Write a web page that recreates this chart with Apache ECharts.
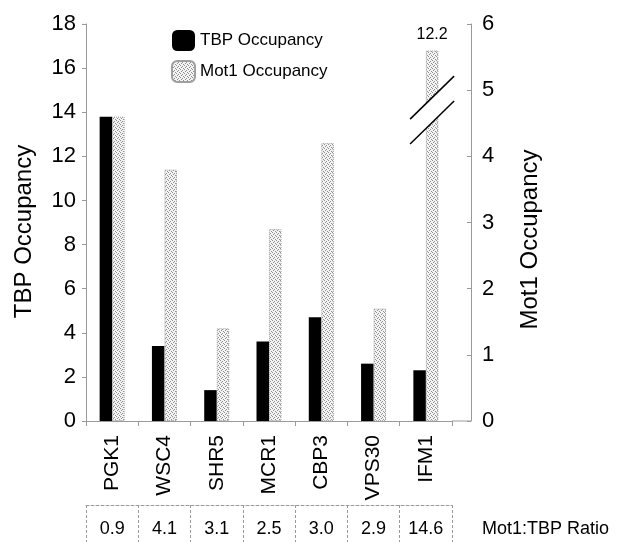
<!DOCTYPE html>
<html>
<head>
<meta charset="utf-8">
<script src="https://cdn.jsdelivr.net/npm/echarts@6/dist/echarts.min.js"></script>
<style>
  html, body { margin: 0; padding: 0; background: #fff; }
  #chart { width: 624px; height: 542px; }
</style>
</head>
<body>
<div id="chart"></div>
<script>
// Promoters on the x axis
const categories = ['PGK1', 'WSC4', 'SHR5', 'MCR1', 'CBP3', 'VPS30', 'IFM1'];
// TBP occupancy (left axis)
const tbpOccupancy = [13.8, 3.4, 1.4, 3.6, 4.7, 2.6, 2.3];
// Mot1 occupancy (right axis); IFM1 runs off the scale and is drawn through a broken axis
const mot1Occupancy = [4.6, 3.8, 1.4, 2.9, 4.2, 1.7, 12.2];
// Mot1:TBP ratio row under the chart
const ratios = [0.9, 4.1, 3.1, 2.5, 3.0, 2.9, 14.6];
// Tick labels
const tbpTicks = { min: 0, max: 18, interval: 2 };
const mot1Ticks = { min: 0, max: 6, interval: 1 };
// Axis break used for the off-scale Mot1 bar
const mot1Break = { start: 4.7, end: 11.3 };

const FONT = 'Liberation Sans, Arial, Helvetica, sans-serif';
const BAR_W = 12.5;
const GRID = { left: 86, right: 172, top: 24, bottom: 121 };
const RIGHT_OFFSET = 19;
const brokenIdx = mot1Occupancy.findIndex(v => v > mot1Ticks.max);

// Stippled fill for the Mot1 bars
function stipple() {
  const c = document.createElement('canvas');
  c.width = 4; c.height = 4;
  const g = c.getContext('2d');
  g.fillStyle = '#f4f4f4';
  g.fillRect(0, 0, 4, 4);
  g.fillStyle = '#8f8f8f';
  [[0, 0], [2, 1], [1, 2], [3, 3]].forEach(([x, y]) => g.fillRect(x, y, 1, 1));
  return { image: c, repeat: 'repeat' };
}
const mot1Fill = stipple();

const axisGray = '#9a9a9a';
const chart = echarts.init(document.getElementById('chart'), null, { renderer: 'canvas' });

const option = {
  animation: false,
  backgroundColor: '#fff',
  textStyle: { fontFamily: FONT, color: '#000' },
  grid: Object.assign({ containLabel: false }, GRID),
  legend: {
    orient: 'vertical',
    left: 171,
    top: 30,
    padding: 0,
    itemWidth: 23,
    itemHeight: 21,
    itemGap: 9,
    textStyle: { fontFamily: FONT, fontSize: 17, color: '#000' },
    data: ['TBP Occupancy', 'Mot1 Occupancy']
  },
  xAxis: [
    {
      type: 'category',
      data: categories,
      position: 'bottom',
      axisLine: { show: true, lineStyle: { color: axisGray, width: 1 } },
      axisTick: { show: true, length: 5, lineStyle: { color: axisGray } },
      axisLabel: {
        rotate: 90, margin: 14, fontSize: 21, color: '#000', fontFamily: FONT, interval: 0
      },
      splitLine: { show: false }
    },
    {
      // Ratio row, drawn as a boxed row of cells under the category labels
      type: 'category',
      data: ratios.map(v => v.toFixed(1)),
      position: 'bottom',
      offset: 84,
      name: 'Mot1:TBP Ratio',
      nameLocation: 'end',
      nameGap: 30,
      nameTextStyle: { fontSize: 18, fontFamily: FONT, color: '#000', verticalAlign: 'top', padding: [15, 0, 0, 0] },
      axisLine: { show: true, onZero: false, lineStyle: { color: axisGray, width: 1, type: [3, 2] } },
      axisTick: { show: true, interval: 0, length: 40, lineStyle: { color: axisGray, type: [3, 2] } },
      axisLabel: { margin: 15, fontSize: 18, color: '#000', fontFamily: FONT, interval: 0 },
      splitLine: { show: false }
    }
  ],
  yAxis: [
    {
      type: 'value',
      position: 'left',
      min: tbpTicks.min, max: tbpTicks.max, interval: tbpTicks.interval,
      name: 'TBP Occupancy',
      nameLocation: 'middle',
      nameRotate: 90,
      nameGap: 50,
      nameTextStyle: { fontSize: 24, fontFamily: FONT, color: '#000', padding: [0, 18, 0, 0] },
      axisLine: { show: true, lineStyle: { color: axisGray, width: 1 } },
      axisTick: { show: true, length: 4, lineStyle: { color: axisGray } },
      axisLabel: { margin: 10, fontSize: 22, color: '#000', fontFamily: FONT },
      splitLine: { show: false }
    },
    {
      type: 'value',
      position: 'right',
      offset: RIGHT_OFFSET,
      min: mot1Ticks.min, max: mot1Ticks.max, interval: mot1Ticks.interval,
      name: 'Mot1 Occupancy',
      nameLocation: 'middle',
      nameRotate: 90,
      nameGap: 47,
      nameTextStyle: { fontSize: 24, fontFamily: FONT, color: '#000', padding: [0, 34, 0, 0] },
      axisLine: { show: true, lineStyle: { color: axisGray, width: 1 } },
      axisTick: { show: true, inside: true, length: 4, lineStyle: { color: axisGray } },
      axisLabel: { margin: 11, fontSize: 22, color: '#000', fontFamily: FONT },
      splitLine: { show: false }
    },
    {
      // Mot1 data scale: same as the right axis below the break, compressed above it
      type: 'value',
      position: 'right',
      show: false,
      min: mot1Ticks.min,
      max: mot1Occupancy[brokenIdx] + 0.4,
      breaks: [{ start: mot1Break.start, end: mot1Break.end, gap: 0 }],
      breakArea: { show: false },
      splitLine: { show: false }
    }
  ],
  series: [
    {
      name: 'TBP Occupancy',
      type: 'bar',
      xAxisIndex: 0,
      yAxisIndex: 0,
      data: tbpOccupancy,
      barWidth: BAR_W,
      barGap: '0%',
      itemStyle: { color: '#000' }
    },
    {
      name: 'Mot1 Occupancy',
      type: 'bar',
      xAxisIndex: 0,
      yAxisIndex: 2,
      data: mot1Occupancy.map((v, i) => i === brokenIdx
        ? { value: v, label: { show: true } }
        : v),
      barWidth: BAR_W,
      barGap: '0%',
      itemStyle: { color: mot1Fill, borderColor: '#a0a0a0', borderWidth: 1, borderType: 'dotted' },
      label: {
        show: false, position: 'top', distance: 8,
        fontSize: 16, fontFamily: FONT, color: '#000'
      }
    }
  ]
};

chart.setOption(option);

const extras = [];

// Baseline continues under the offset right axis
const base = chart.convertToPixel({ yAxisIndex: 0 }, 0);
const gridRight = chart.getWidth() - GRID.right;
extras.push({
  type: 'line', silent: true, z: 5,
  shape: { x1: gridRight, y1: base, x2: gridRight + RIGHT_OFFSET, y2: base },
  style: { stroke: axisGray, lineWidth: 1 }
});

// Break marks across the off-scale bar, placed at the break value
if (brokenIdx >= 0) {
  const p = chart.convertToPixel({ seriesIndex: 1 }, [categories[brokenIdx], mot1Break.start]);
  const cx = p[0] + BAR_W / 2;
  const cy = p[1];
  const off = 12.4, hx = 22, hy = 21.5, slope = hy / hx, bw = BAR_W / 2 + 2;
  extras.push(
    {
      type: 'polygon', z: 100, silent: true,
      shape: { points: [
        [cx - bw, cy - off + bw * slope], [cx + bw, cy - off - bw * slope],
        [cx + bw, cy + off - bw * slope], [cx - bw, cy + off + bw * slope]
      ] },
      style: { fill: '#ffffff', stroke: null }
    },
    {
      type: 'line', z: 101, silent: true,
      shape: { x1: cx - hx, y1: cy - off + hy, x2: cx + hx, y2: cy - off - hy },
      style: { stroke: '#000', lineWidth: 1.5 }
    },
    {
      type: 'line', z: 101, silent: true,
      shape: { x1: cx - hx, y1: cy + off + hy, x2: cx + hx, y2: cy + off - hy },
      style: { stroke: '#000', lineWidth: 1.5 }
    }
  );
}

chart.setOption({ graphic: { elements: extras } });
</script>
</body>
</html>
